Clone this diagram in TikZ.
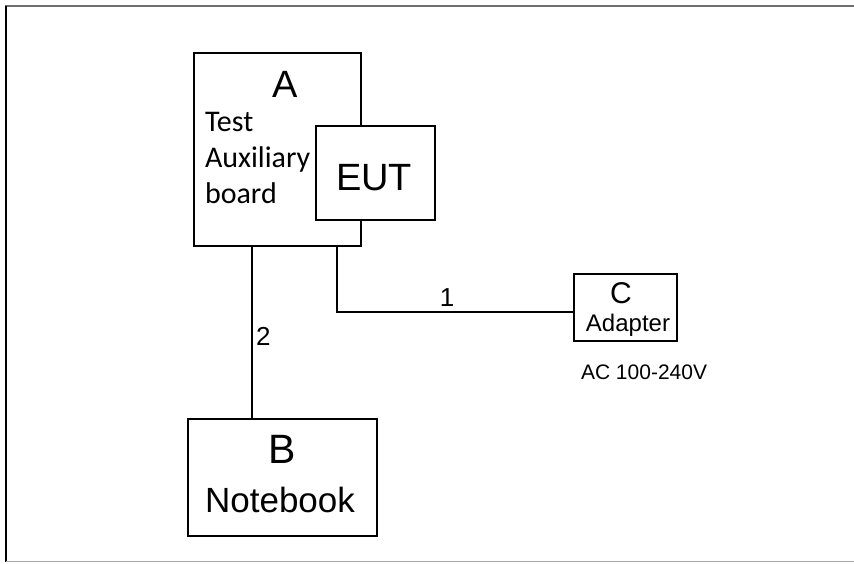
\documentclass[tikz,border=0pt]{standalone}
\usepackage{fontspec}
\setmainfont{Liberation Sans}
\newfontfamily\calibrifont{Carlito}
\usetikzlibrary{positioning,calc}
\definecolor{framegray}{RGB}{110,110,110}

\begin{document}
\begin{tikzpicture}[x=1pt, y=-1pt, every node/.style={inner sep=0pt, outer sep=0pt}]
  \tikzset{
    unit/.style={draw, line width=1.4pt, fill=white},
    big/.style={font=\fontsize{38}{38}\selectfont, anchor=base},
    mid/.style={font=\fontsize{35}{35}\selectfont, anchor=base},
    small/.style={font=\fontsize{24}{24}\selectfont, anchor=base},
    cable/.style={line width=1.4pt}
  }
  \useasboundingbox (0,0) rectangle (854,563);

  % frame (right side cut off)
  \draw[line width=2pt, framegray] (5,6) -- (854,6);
  \draw[line width=2pt] (6,6) -- (6,562);
  \draw[line width=1pt, black!35] (6,561) -- (854,561);

  % A: test board, EUT sits on top of it
  \node[unit, minimum width=167pt, minimum height=193pt] (boxA) at (277.5,149.5) {};
  \node[big] (labA) at (285,97) {A};
  \node[anchor=north west, align=left, font=\calibrifont\fontsize{30}{36}\selectfont] (labAux) at (205,112) {Test\\Auxiliary\\board};
  \node[unit, minimum width=119pt, minimum height=94pt] (boxEUT) at (375.5,173) {};
  \node[big] (labEUT) at (374,190) {EUT};

  % B: notebook
  \node[unit, minimum width=189pt, minimum height=117pt] (boxB) at (282.5,477.5) {};
  \node[font=\fontsize{41}{41}\selectfont, anchor=base] (labB) at (282,463) {B};
  \node[mid] (labNb) at (280,512) {Notebook};

  % C: adapter
  \node[unit, minimum width=103pt, minimum height=67pt] (boxC) at (625.5,307.5) {};
  \node[font=\fontsize{30}{30}\selectfont, anchor=base] (labC) at (621,303) {C};
  \node[small] (labAd) at (628,331) {Adapter};
  \node[font=\fontsize{21}{21}\selectfont, anchor=base west] (labAC) at (581,379) {AC 100-240V};

  % cables
  \coordinate (c1) at (337,0);
  \coordinate (c2) at (252,0);
  \draw[cable] (boxA.south -| c1) |- ([yshift=-4.5pt]boxC.west);
  \draw[cable] (boxA.south -| c2) -- (boxB.north -| c2);
  \node[font=\fontsize{26}{26}\selectfont, anchor=base] (num1) at (447,306) {1};
  \node[font=\fontsize{26}{26}\selectfont, anchor=base west] (num2) at (256,345) {2};
\end{tikzpicture}
\end{document}
